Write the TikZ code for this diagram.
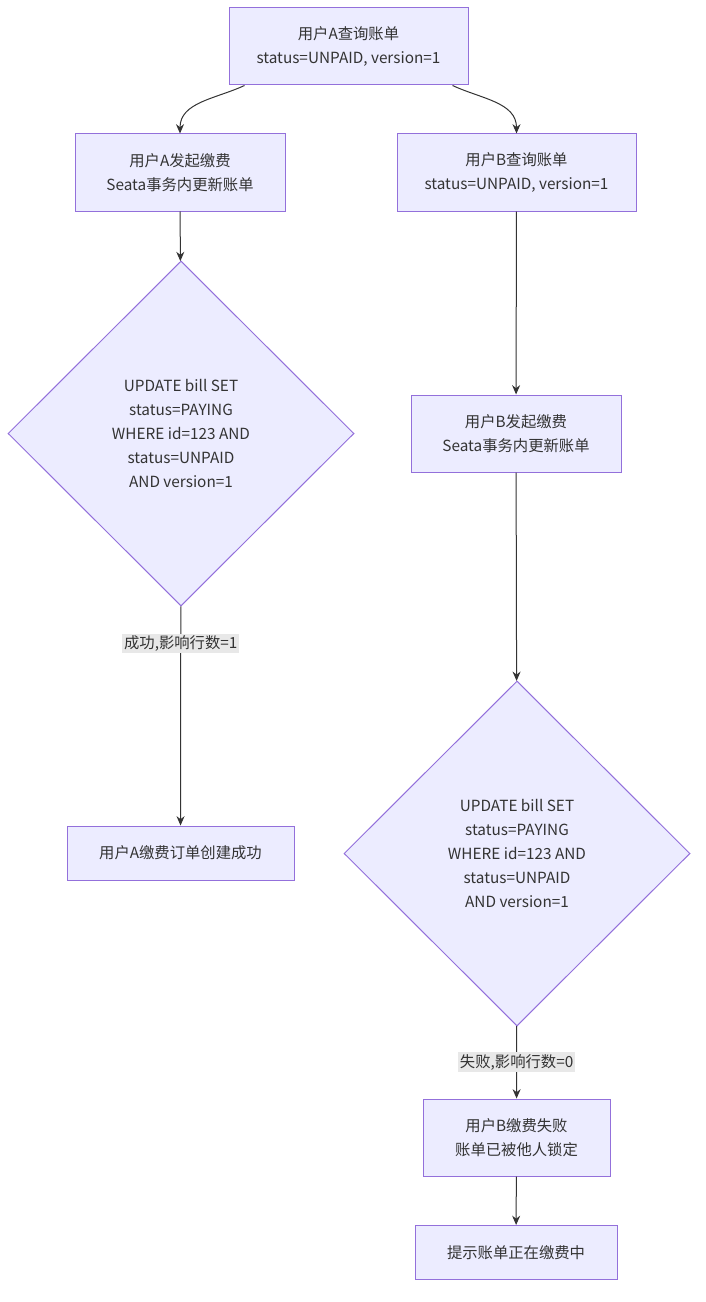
\documentclass[tikz,border=0pt]{standalone}
\usepackage{fontspec}
\setmainfont{Noto Sans CJK SC}
\usetikzlibrary{shapes.geometric,arrows.meta}
\definecolor{nodefill}{HTML}{ECECFF}
\definecolor{nodeline}{HTML}{9370DB}
\definecolor{edgeline}{HTML}{333333}
\definecolor{labelbg}{HTML}{E8E8E8}
\tikzset{
  box/.style={draw=nodeline, fill=nodefill, line width=0.75pt, text=edgeline,
    align=center, inner sep=0pt, font=\fontsize{11.5pt}{18pt}\selectfont},
  decision/.style={diamond, draw=nodeline, fill=nodefill, line width=0.75pt, text=edgeline,
    align=center, inner sep=0pt, aspect=1, minimum width=259.5pt, minimum height=258.75pt,
    font=\fontsize{11.5pt}{18pt}\selectfont},
  arr/.style={draw=edgeline, line width=0.75pt, -{Stealth[length=7pt,width=6pt]}},
  lbl/.style={fill=labelbg, text=edgeline, inner sep=1.5pt, font=\fontsize{11.5pt}{14pt}\selectfont}
}
\begin{document}
\begin{tikzpicture}[x=0.75pt, y=-0.75pt]
  \useasboundingbox (0,0) rectangle (706,1302);

  % left branch: user A
  \node[box, minimum width=179.25pt, minimum height=57.75pt] (queryA) at (348.5,46.5) {用户A查询账单\\status=UNPAID, version=1};
  \node[box, minimum width=157.5pt, minimum height=57.75pt] (payA) at (180,172.5) {用户A发起缴费\\Seata事务内更新账单};
  \node[decision] (updA) at (181,433.5) {UPDATE bill SET\\status=PAYING\\WHERE id=123 AND\\status=UNPAID\\AND version=1};
  \node[box, minimum width=170.25pt, minimum height=40.5pt] (okA) at (180.5,853) {用户A缴费订单创建成功};

  % right branch: user B
  \node[box, minimum width=179.25pt, minimum height=57.75pt] (queryB) at (516.5,172.5) {用户B查询账单\\status=UNPAID, version=1};
  \node[box, minimum width=157.5pt, minimum height=57.75pt] (payB) at (516,433.5) {用户B发起缴费\\Seata事务内更新账单};
  \node[decision] (updB) at (517,853.5) {UPDATE bill SET\\status=PAYING\\WHERE id=123 AND\\status=UNPAID\\AND version=1};
  \node[box, minimum width=140.25pt, minimum height=57.75pt] (failB) at (516.5,1137.5) {用户B缴费失败\\账单已被他人锁定};
  \node[box, minimum width=151.5pt, minimum height=40.5pt] (tip) at (516,1252.5) {提示账单正在缴费中};

  % connectors
  \draw[arr] ([xshift=12pt]queryA.south west) to[out=-155, in=90] (payA.north);
  \draw[arr] ([xshift=-12pt]queryA.south east) to[out=-25, in=90] (queryB.north);
  \draw[arr] (payA) -- (updA);
  \draw[arr] (updA) -- node[lbl, pos=0.17] {成功,影响行数=1} (okA);
  \draw[arr] (queryB) -- (payB);
  \draw[arr] (payB) -- (updB);
  \draw[arr] (updB) -- node[lbl] {失败,影响行数=0} (failB);
  \draw[arr] (failB) -- (tip);
\end{tikzpicture}
\end{document}
